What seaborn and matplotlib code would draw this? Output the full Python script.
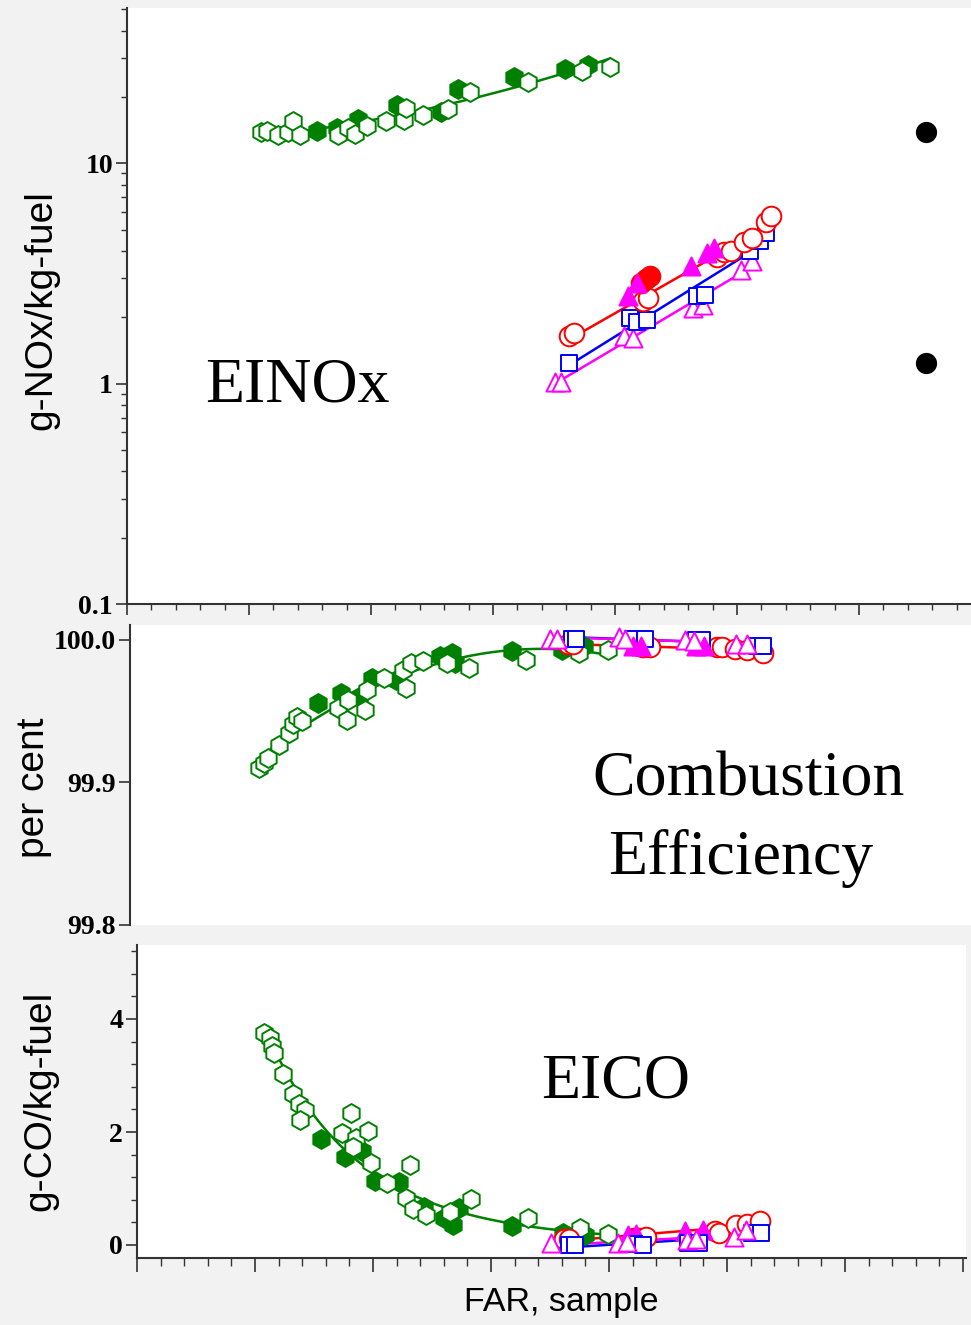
import numpy as np
import matplotlib
matplotlib.use("Agg")
import matplotlib.pyplot as plt
import seaborn as sns
from matplotlib.ticker import MultipleLocator, LogLocator, NullFormatter, FixedLocator

sns.set_theme(style="ticks")
plt.rcParams['font.family'] = ['Liberation Sans', 'DejaVu Sans']
plt.rcParams['text.color'] = 'black'
plt.rcParams['axes.labelcolor'] = 'black'
plt.rcParams['xtick.color'] = 'black'
plt.rcParams['ytick.color'] = 'black'

GREEN = '#008000'; RED = '#ff0000'; BLUE = '#0000ff'; MAG = '#ff00ff'

# ---------------- data: EINOx (top) ----------------
nox_green_open_x = [1.10, 1.15, 1.24, 1.32, 1.36, 1.42, 1.73, 1.81, 1.87, 1.97, 2.12, 2.27, 2.29, 2.43, 2.63, 2.81, 3.29, 3.73, 3.96]
nox_green_open_y = [13.9, 14.0, 13.4, 13.8, 15.5, 13.4, 13.4, 14.4, 13.5, 14.8, 15.5, 15.7, 17.8, 16.5, 17.6, 21.1, 23.4, 26.2, 27.3]
nox_green_fill_x = [1.56, 1.72, 1.89, 2.21, 2.57, 2.71, 3.17, 3.59, 3.78]
nox_green_fill_y = [14.0, 14.4, 15.8, 18.4, 17.1, 21.7, 24.5, 26.7, 27.8]
nox_red_x = [3.62, 3.66, 4.23, 4.27, 4.84, 4.89, 4.95, 5.06, 5.12, 5.24, 5.28]
nox_red_y = [1.64, 1.69, 2.36, 2.45, 3.74, 3.94, 3.98, 4.39, 4.56, 5.43, 5.78]
nox_red_fill_x = [4.21, 4.25, 4.29]
nox_red_fill_y = [2.85, 2.97, 3.08]
nox_blue_x = [3.62, 4.12, 4.18, 4.26, 4.67, 4.74, 5.11, 5.19, 5.24]
nox_blue_y = [1.24, 1.98, 1.91, 1.95, 2.49, 2.53, 3.98, 4.42, 4.82]
nox_mag_x = [3.51, 3.56, 4.07, 4.15, 4.64, 4.72, 5.03, 5.12]
nox_mag_y = [1.02, 1.02, 1.64, 1.61, 2.20, 2.28, 3.29, 3.59]
nox_mag_fill_x = [4.11, 4.18, 4.62, 4.75, 4.81]
nox_mag_fill_y = [2.49, 2.86, 3.40, 3.90, 4.12]
nox_dot_x = [6.55, 6.55]
nox_dot_y = [13.8, 1.245]

# ---------------- data: combustion efficiency (middle) ----------------
ce_green_open_x = [1.07, 1.11, 1.14, 1.23, 1.31, 1.35, 1.38, 1.42, 1.72, 1.79, 1.80, 1.94, 1.96, 2.10, 2.26, 2.28, 2.32, 2.42, 2.62, 2.80, 3.27, 3.71, 3.95]
ce_green_open_y = [99.910, 99.914, 99.917, 99.926, 99.935, 99.941, 99.946, 99.943, 99.952, 99.944, 99.958, 99.951, 99.965, 99.973, 99.979, 99.966, 99.984, 99.985, 99.984, 99.980, 99.986, 99.991, 99.993]
ce_green_fill_x = [1.55, 1.74, 1.89, 2.00, 2.20, 2.56, 2.66, 2.69, 3.16, 3.57, 3.75]
ce_green_fill_y = [99.956, 99.963, 99.960, 99.973, 99.972, 99.989, 99.991, 99.984, 99.992, 99.993, 99.996]
ce_red_x = [3.62, 3.66, 4.24, 4.30, 4.85, 4.89, 5.00, 5.10, 5.23]
ce_red_y = [99.997, 99.997, 99.995, 99.995, 99.995, 99.995, 99.994, 99.993, 99.991]
ce_red_fill_x = [4.21, 4.25]
ce_red_fill_y = [99.996, 99.996]
ce_blue_x = [3.65, 3.69, 4.16, 4.26, 4.68, 4.73, 5.18, 5.23]
ce_blue_y = [100.001, 100.001, 100.001, 100.001, 100.000, 100.000, 99.996, 99.996]
ce_mag_x = [3.47, 3.53, 4.04, 4.09, 4.59, 4.66, 5.01, 5.10]
ce_mag_y = [100.001, 100.001, 100.002, 100.001, 100.000, 99.9995, 99.997, 99.997]
ce_mag_fill_x = [4.16, 4.22, 4.68, 4.74]
ce_mag_fill_y = [99.996, 99.996, 99.996, 99.9955]

# ---------------- data: EICO (bottom) ----------------
co_green_open_x = [1.08, 1.13, 1.14, 1.16, 1.24, 1.32, 1.37, 1.42, 1.38, 1.81, 1.74, 1.86, 1.83, 1.96, 1.98, 2.12, 2.31, 2.28, 2.34, 2.45, 2.65, 2.83, 3.31, 3.75, 3.99]
co_green_open_y = [3.76, 3.66, 3.52, 3.40, 3.02, 2.68, 2.50, 2.39, 2.22, 2.34, 1.99, 1.89, 1.74, 2.02, 1.45, 1.10, 1.42, 0.83, 0.63, 0.53, 0.59, 0.81, 0.47, 0.30, 0.19]
co_green_fill_x = [1.56, 1.76, 1.91, 2.02, 2.22, 2.43, 2.60, 2.68, 2.73, 3.18, 3.61, 3.80]
co_green_fill_y = [1.87, 1.55, 1.67, 1.13, 1.12, 0.68, 0.47, 0.35, 0.65, 0.34, 0.21, 0.18]
co_red_x = [3.62, 3.66, 4.31, 4.90, 4.93, 5.08, 5.17, 5.28]
co_red_y = [0.10, 0.10, 0.15, 0.24, 0.22, 0.35, 0.38, 0.43]
co_red_fill_x = [4.21, 4.25]
co_red_fill_y = [0.12, 0.13]
co_blue_x = [3.66, 3.71, 4.21, 4.29, 4.67, 4.76, 5.21, 5.29]
co_blue_y = [0.00, 0.00, 0.02, 0.00, 0.04, 0.03, 0.22, 0.22]
co_mag_x = [3.51, 4.08, 4.15, 4.66, 4.74, 5.06, 5.16]
co_mag_y = [0.03, 0.04, 0.06, 0.09, 0.10, 0.15, 0.27]
co_mag_fill_x = [4.16, 4.23, 4.64, 4.80]
co_mag_fill_y = [0.18, 0.19, 0.24, 0.27]

W, H = 971, 1325
fig = plt.figure(figsize=(W / 100, H / 100), dpi=100, facecolor='#f2f2f2')


def box(l, t, r, b):
    return [l / W, 1 - b / H, (r - l) / W, (b - t) / H]


ax1 = fig.add_axes(box(127, 8, 971, 604))
ax2 = fig.add_axes(box(130, 625, 971, 925))
ax3 = fig.add_axes(box(137, 945, 966, 1258))

SERIF = 'Liberation Serif'


def pts(ax, x, y, marker, color, filled, s):
    sns.scatterplot(x=x, y=y, ax=ax, marker=marker, s=s,
                    facecolor=color if filled else 'white', edgecolor=color,
                    linewidth=1.4, zorder=3, legend=False)


def fit(ax, x, y, color, deg, logy=False):
    x = np.asarray(x, float); y = np.asarray(y, float)
    t = np.log(y) if logy else y
    c = np.polyfit(x, t, deg)
    xx = np.linspace(x.min(), x.max(), 120)
    yy = np.polyval(c, xx)
    if logy:
        yy = np.exp(yy)
    sns.lineplot(x=xx, y=yy, ax=ax, color=color, lw=1.8, zorder=2)


S_H, S_O, S_S, S_T = 185, 200, 130, 170

# ---- top panel ----
ax = ax1
fit(ax, nox_green_open_x + nox_green_fill_x, nox_green_open_y + nox_green_fill_y, GREEN, 2, True)
fit(ax, nox_red_x, nox_red_y, RED, 1, True)
fit(ax, nox_blue_x, nox_blue_y, BLUE, 1, True)
fit(ax, nox_mag_x, nox_mag_y, MAG, 1, True)
pts(ax, nox_green_fill_x, nox_green_fill_y, 'h', GREEN, True, S_H)
pts(ax, nox_green_open_x, nox_green_open_y, 'h', GREEN, False, S_H)
pts(ax, nox_mag_x, nox_mag_y, '^', MAG, False, S_T)
pts(ax, nox_blue_x, nox_blue_y, 's', BLUE, False, S_S)
pts(ax, nox_red_x, nox_red_y, 'o', RED, False, S_O)
pts(ax, nox_red_fill_x, nox_red_fill_y, 'o', RED, True, S_O)
pts(ax, nox_mag_fill_x, nox_mag_fill_y, '^', MAG, True, S_T)
sns.scatterplot(x=nox_dot_x, y=nox_dot_y, ax=ax, color='black', s=200, marker='o', edgecolor='black', legend=False, zorder=3)
ax.set_yscale('log')
ax.set_xlim(0, 844 / 122)
ax.set_ylim(0.1, 50.6)
ax.yaxis.set_major_locator(FixedLocator([0.1, 1, 10]))
ax.yaxis.set_minor_locator(LogLocator(base=10, subs=range(2, 10)))
ax.yaxis.set_minor_formatter(NullFormatter())
ax.set_yticks([0.1, 1, 10], ['0.1', '1', '10'])
ax.text(1.40, 0.97, 'EINOx', fontsize=46, family=SERIF, ha='center', va='center', color='black')

# ---- middle panel ----
ax = ax2
fit(ax, ce_green_open_x + ce_green_fill_x, ce_green_open_y + ce_green_fill_y, GREEN, 2)
fit(ax, ce_red_x, ce_red_y, RED, 1)
fit(ax, ce_blue_x, ce_blue_y, BLUE, 1)
fit(ax, ce_mag_x, ce_mag_y, MAG, 1)
pts(ax, ce_green_fill_x, ce_green_fill_y, 'h', GREEN, True, S_H)
pts(ax, ce_green_open_x, ce_green_open_y, 'h', GREEN, False, S_H)
pts(ax, ce_red_fill_x, ce_red_fill_y, 'o', RED, True, S_O)
pts(ax, ce_red_x, ce_red_y, 'o', RED, False, S_O)
pts(ax, ce_blue_x, ce_blue_y, 's', BLUE, False, S_S)
pts(ax, ce_mag_fill_x, ce_mag_fill_y, '^', MAG, True, S_T)
pts(ax, ce_mag_x, ce_mag_y, '^', MAG, False, S_T)
ax.set_xlim(0, 841 / 121)
ax.set_ylim(99.8, 100.0105)
ax.set_yticks([99.8, 99.9, 100.0], ['99.8', '99.9', '100.0'])
ax.set_xticks([])
ax.text(5.11, 99.9015, 'Combustion', fontsize=46, family=SERIF, ha='center', va='center', color='black')
ax.text(5.05, 99.847, 'Efficiency', fontsize=46, family=SERIF, ha='center', va='center', color='black')

# ---- bottom panel ----
ax = ax3
fit(ax, co_green_open_x + co_green_fill_x, co_green_open_y + co_green_fill_y, GREEN, 2, True)
fit(ax, co_red_x, co_red_y, RED, 1)
fit(ax, co_blue_x, co_blue_y, BLUE, 1)
fit(ax, co_mag_x, co_mag_y, MAG, 1)
pts(ax, co_green_fill_x, co_green_fill_y, 'h', GREEN, True, S_H)
pts(ax, co_green_open_x, co_green_open_y, 'h', GREEN, False, S_H)
pts(ax, co_red_fill_x, co_red_fill_y, 'o', RED, True, S_O)
pts(ax, co_red_x, co_red_y, 'o', RED, False, S_O)
pts(ax, co_mag_fill_x, co_mag_fill_y, '^', MAG, True, S_T)
pts(ax, co_blue_x, co_blue_y, 's', BLUE, False, S_S)
pts(ax, co_mag_x, co_mag_y, '^', MAG, False, S_T)
ax.set_xlim(0, 829 / 118)
ax.set_ylim(-13 / 56.5, 300 / 56.5)
ax.set_yticks([0, 2, 4], ['0', '2', '4'])
ax.yaxis.set_minor_locator(MultipleLocator(0.4))
ax.text(4.06, 2.88, 'EICO', fontsize=46, family=SERIF, ha='center', va='center', color='black')

for ax in (ax1, ax3):
    ax.xaxis.set_major_locator(MultipleLocator(1))
    ax.xaxis.set_minor_locator(MultipleLocator(0.2))
    ax.tick_params(axis='x', which='both', labelbottom=False)

for ax in (ax1, ax2, ax3):
    ax.set_facecolor('white')
    ax.set_xlabel(''); ax.set_ylabel('')
    for sp in ('top', 'right'):
        ax.spines[sp].set_visible(False)
    for sp in ('left', 'bottom'):
        ax.spines[sp].set_color('#333333')
        ax.spines[sp].set_linewidth(1.5)
    ax.tick_params(which='major', direction='out', length=8, width=1.2, color='#333333', pad=2)
    ax.tick_params(which='minor', direction='out', length=4.5, width=1.0, color='#333333')
    for lab in ax.get_yticklabels():
        lab.set_fontfamily(SERIF)
        lab.set_fontweight('bold')
        lab.set_fontsize(20)
        lab.set_color('black')
ax2.spines['bottom'].set_visible(False)
ax3.tick_params(axis='x', which='major', length=10)
ax3.tick_params(axis='x', which='minor', length=6)

fig.text(41 / W, 1 - 310 / H, 'g-NOx/kg-fuel', rotation=90, ha='center', va='center', fontsize=28, color='black')
fig.text(34 / W, 1 - 788 / H, 'per cent', rotation=90, ha='center', va='center', fontsize=28, color='black')
fig.text(40 / W, 1 - 1101 / H, 'g-CO/kg-fuel', rotation=90, ha='center', va='center', fontsize=28, color='black')
fig.text(561 / W, 1 - 1302 / H, 'FAR, sample', ha='center', va='center', fontsize=24.5, color='black')

fig.savefig('out.png', dpi=100, facecolor=fig.get_facecolor())
